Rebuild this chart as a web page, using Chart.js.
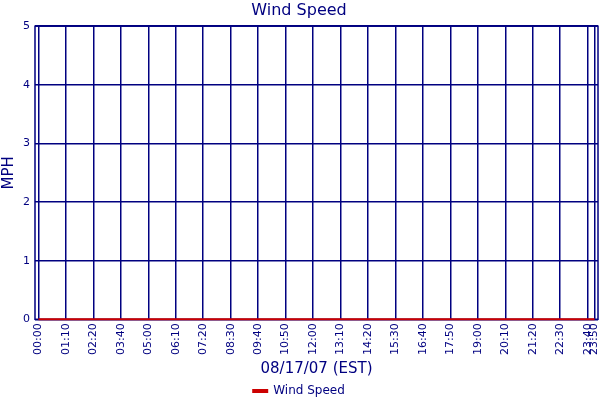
<!DOCTYPE html>
<html lang="en">

<head>
    <meta charset="UTF-8">
    <title>Wind Speed</title>
    <script src="https://cdn.jsdelivr.net/npm/chart.js"></script>
    <style>
        html, body { margin: 0; padding: 0; background: #fff; }
        #wrap { width: 600px; height: 400px; }
    </style>
</head>

<body>
    <div id="wrap">
        <canvas id="myChart"></canvas>
    </div>
</body>
<script>
    // sample number of each labelled reading (the axis is indexed by sample, not by clock time)
    const sampleIndex = [0, 8, 16, 24, 32, 40, 48, 56, 64, 72, 80,
        88, 96, 104, 112, 120, 128, 136, 144, 152, 160, 162];
    const timeLabels = ['00:00', '01:10', '02:20', '03:40', '05:00', '06:10', '07:20', '08:30', '09:40', '10:50', '12:00',
        '13:10', '14:20', '15:30', '16:40', '17:50', '19:00', '20:10', '21:20', '22:30', '23:40', '23:50'];
    const windSpeed = [0, 0, 0, 0, 0, 0, 0, 0, 0, 0, 0,
        0, 0, 0, 0, 0, 0, 0, 0, 0, 0, 0];
    const yTicks = [0, 1, 2, 3, 4, 5];

    const navy = '#000080';

    // outline round the plot area
    const frame = {
        id: 'frame',
        beforeDatasetsDraw(chart) {
            const { ctx, chartArea: a } = chart;
            ctx.save();
            ctx.strokeStyle = navy;
            ctx.lineWidth = 1.5;
            ctx.strokeRect(a.left, a.top, a.right - a.left, a.bottom - a.top);
            ctx.restore();
        }
    };

    const ctx = document.getElementById('myChart').getContext('2d');
    new Chart(ctx, {
        type: 'line',
        data: {
            datasets: [{
                label: 'Wind Speed',
                data: sampleIndex.map((x, i) => ({ x: x, y: windSpeed[i] })),
                borderColor: '#cc0000',
                backgroundColor: '#cc0000',
                borderWidth: 2,
                pointRadius: 0,
                tension: 0,
                clip: false
            }]
        },
        options: {
            responsive: true,
            maintainAspectRatio: false,
            animation: false,
            layout: { padding: { left: 0, right: 2, top: 0, bottom: -7 } },
            scales: {
                x: {
                    type: 'linear',
                    min: -1,
                    max: 163,
                    afterBuildTicks: axis => {
                        axis.ticks = sampleIndex.map(v => ({ value: v }));
                    },
                    afterFit: axis => {
                        axis.paddingLeft = 0;
                        axis.paddingRight = 0;
                    },
                    grid: { color: navy, lineWidth: 1.5, drawTicks: false },
                    border: { display: false },
                    ticks: {
                        autoSkip: false,
                        maxRotation: 90,
                        minRotation: 90,
                        padding: 4,
                        color: navy,
                        font: { family: 'DejaVu Sans', size: 11 },
                        callback: function (value) {
                            const i = sampleIndex.indexOf(value);
                            return i >= 0 ? timeLabels[i] : '';
                        }
                    },
                    title: {
                        display: true,
                        text: '08/17/07 (EST)',
                        color: navy,
                        font: { family: 'DejaVu Sans', size: 15 },
                        padding: { top: 1, bottom: 5 }
                    }
                },
                y: {
                    min: 0,
                    max: 5,
                    afterBuildTicks: axis => {
                        axis.ticks = yTicks.map(v => ({ value: v }));
                    },
                    grid: { color: navy, lineWidth: 1.5, drawTicks: false },
                    border: { display: false },
                    ticks: {
                        padding: 5,
                        color: navy,
                        font: { family: 'DejaVu Sans', size: 11 }
                    },
                    title: {
                        display: true,
                        text: 'MPH',
                        color: navy,
                        font: { family: 'DejaVu Sans', size: 15 },
                        padding: 0
                    }
                }
            },
            plugins: {
                title: {
                    display: true,
                    text: 'Wind Speed',
                    color: navy,
                    font: { family: 'DejaVu Sans', size: 16, weight: 'normal' },
                    padding: { top: 1, bottom: 6 }
                },
                legend: {
                    position: 'bottom',
                    labels: {
                        color: navy,
                        font: { family: 'DejaVu Sans', size: 12 },
                        boxWidth: 14,
                        boxHeight: 2,
                        padding: 2
                    }
                },
                tooltip: { enabled: false }
            }
        },
        plugins: [frame]
    });
</script>

</html>
